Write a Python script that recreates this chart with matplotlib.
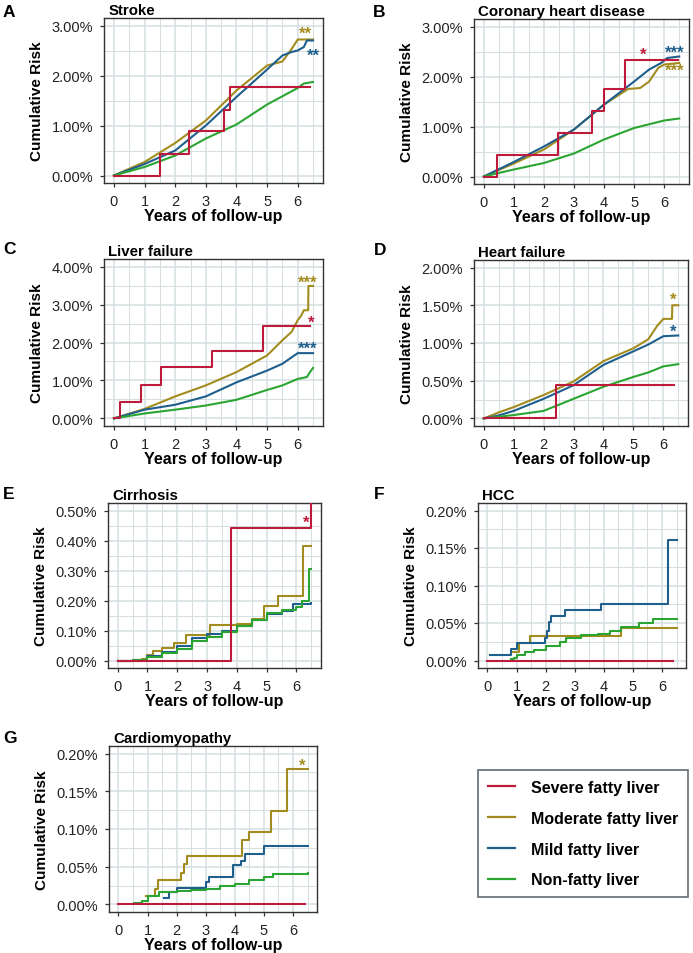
import matplotlib
matplotlib.use("Agg")
import matplotlib.pyplot as plt
from matplotlib.lines import Line2D
from matplotlib.ticker import FuncFormatter, MultipleLocator

plt.rcParams["font.family"] = ["Liberation Sans", "DejaVu Sans"]

W, H = 693, 954
C = dict(severe="#BE1A3C", moderate="#A38C1F", mild="#1F5F8E", non="#2BA532")
GRID = "#D4DFE0"
GROUPS = ["severe", "moderate", "mild", "non"]
LABELS = ["Severe fatty liver", "Moderate fatty liver", "Mild fatty liver", "Non-fatty liver"]

# cumulative risk in percent; (years, risk)
stroke = {
    "severe": ([0, 1.49, 2.44, 3.6, 3.8, 6.41], [0, 0.44, 0.885, 1.32, 1.77, 1.77]),
    "moderate": ([0, 1, 2, 3, 4, 5, 5.5, 5.8, 6.0, 6.5], [0, 0.27, 0.65, 1.1, 1.70, 2.2, 2.28, 2.53, 2.72, 2.72]),
    "mild": ([0, 1, 2, 3, 4, 5, 5.5, 5.8, 6.0, 6.2, 6.3, 6.5], [0, 0.23, 0.5, 1.0, 1.57, 2.12, 2.4, 2.47, 2.5, 2.57, 2.7, 2.7]),
    "non": ([0, 1, 2, 3, 4, 5, 6, 6.2, 6.5], [0, 0.17, 0.4, 0.74, 1.02, 1.42, 1.75, 1.84, 1.87]),
}
chd = {
    "severe": ([0, 0.44, 2.46, 3.59, 4.0, 4.69, 6.46], [0, 0.44, 0.87, 1.32, 1.76, 2.33, 2.33]),
    "moderate": ([0, 1, 2, 3, 4, 4.8, 5.2, 5.5, 5.8, 6.0, 6.5], [0, 0.26, 0.54, 0.94, 1.44, 1.75, 1.77, 1.9, 2.17, 2.24, 2.27]),
    "mild": ([0, 1, 2, 3, 4, 5, 5.5, 5.9, 6.1, 6.5], [0, 0.29, 0.6, 0.94, 1.44, 1.9, 2.14, 2.27, 2.37, 2.4]),
    "non": ([0, 1, 2, 3, 4, 5, 6, 6.5], [0, 0.14, 0.27, 0.46, 0.74, 0.97, 1.12, 1.16]),
}
liver_failure = {
    "severe": ([0, 0.19, 0.87, 1.55, 3.2, 4.85, 6.41], [0, 0.44, 0.88, 1.35, 1.77, 2.44, 2.44]),
    "moderate": ([0, 1, 2, 3, 4, 5, 5.5, 5.8, 6.0, 6.1, 6.2, 6.34, 6.35, 6.5],
                 [0, 0.25, 0.58, 0.87, 1.22, 1.66, 2.06, 2.28, 2.59, 2.69, 2.85, 2.85, 3.49, 3.49]),
    "mild": ([0, 1, 2, 3, 4, 5, 5.5, 6, 6.5], [0, 0.23, 0.36, 0.58, 0.95, 1.26, 1.44, 1.72, 1.72]),
    "non": ([0, 1, 2, 3, 4, 5, 5.5, 6, 6.3, 6.4, 6.5], [0, 0.13, 0.23, 0.34, 0.49, 0.75, 0.87, 1.04, 1.09, 1.22, 1.33]),
}
heart_failure = {
    "severe": ([0, 2.42, 6.37], [0, 0.45, 0.45]),
    "moderate": ([0, 0.5, 1, 2, 3, 4, 5, 5.5, 5.8, 6.0, 6.29, 6.3, 6.5],
                 [0, 0.08, 0.15, 0.31, 0.49, 0.76, 0.93, 1.05, 1.23, 1.32, 1.32, 1.5, 1.5]),
    "mild": ([0, 0.5, 1, 2, 3, 4, 5, 5.5, 6, 6.5], [0, 0.04, 0.1, 0.26, 0.44, 0.71, 0.89, 0.98, 1.09, 1.1]),
    "non": ([0, 1, 2, 3, 4, 5, 5.5, 6, 6.5], [0, 0.045, 0.1, 0.26, 0.42, 0.55, 0.61, 0.69, 0.72]),
}
cirrhosis = {
    "severe": ([0, 3.8, 6.5], [0, 0.441, 0.882]),
    "moderate": ([0, 0.8, 1.0, 1.2, 1.5, 1.9, 2.29, 3.1, 4.0, 4.5, 4.9, 5.38, 6.23, 6.5],
                 [0, 0.005, 0.019, 0.032, 0.043, 0.06, 0.085, 0.118, 0.122, 0.14, 0.181, 0.215, 0.381, 0.381]),
    "mild": ([0, 0.5, 1.0, 1.5, 2.0, 2.5, 3.0, 3.5, 4.0, 4.5, 5.0, 5.5, 5.9, 6.5],
             [0, 0.003, 0.015, 0.03, 0.05, 0.075, 0.09, 0.1, 0.115, 0.135, 0.155, 0.165, 0.19, 0.193]),
    "non": ([0, 0.5, 1.0, 1.5, 2.0, 2.5, 3.0, 3.5, 4.0, 4.5, 5.0, 5.5, 6.0, 6.2, 6.42, 6.5],
            [0, 0.003, 0.012, 0.025, 0.04, 0.065, 0.08, 0.095, 0.115, 0.135, 0.16, 0.17, 0.18, 0.2, 0.305, 0.305]),
}
hcc = {
    "severe": ([0, 6.38], [0, 0]),
    "moderate": ([0.85, 1.1, 1.45, 4.6, 6.5], [0.012, 0.023, 0.033, 0.044, 0.044]),
    "mild": ([0.1, 0.8, 1.0, 1.98, 2.05, 2.12, 2.2, 2.65, 3.9, 6.2, 6.5],
             [0.0075, 0.015, 0.023, 0.03, 0.04, 0.052, 0.06, 0.067, 0.075, 0.161, 0.161]),
    "non": ([0.8, 0.9, 1.0, 1.3, 1.6, 2.0, 2.3, 2.5, 2.7, 3.2, 3.8, 4.2, 4.6, 5.2, 5.7, 6.5],
            [0.002, 0.004, 0.008, 0.011, 0.014, 0.019, 0.02, 0.025, 0.03, 0.034, 0.036, 0.04, 0.045, 0.05, 0.055, 0.055]),
}
cardiomyopathy = {
    "severe": ([0, 6.4], [0, 0]),
    "moderate": ([0.95, 1.27, 1.35, 2.15, 2.25, 2.35, 4.25, 4.5, 5.25, 5.8, 6.5],
                 [0.011, 0.021, 0.032, 0.042, 0.054, 0.064, 0.085, 0.096, 0.124, 0.179, 0.179]),
    "mild": ([1.55, 1.75, 2.0, 3.0, 3.1, 3.95, 4.2, 4.35, 5.0, 6.5],
             [0.008, 0.016, 0.022, 0.03, 0.036, 0.052, 0.058, 0.067, 0.078, 0.078]),
    "non": ([0.55, 0.8, 1.0, 1.4, 2.0, 2.5, 3.0, 3.5, 4.0, 4.5, 5.0, 5.3, 6.5],
            [0.002, 0.004, 0.011, 0.016, 0.018, 0.019, 0.021, 0.024, 0.027, 0.032, 0.037, 0.041, 0.042]),
}

# significance marks: (group, x, y, text)
stroke_stars = [("moderate", 6.25, 2.84, "**"), ("mild", 6.52, 2.40, "**")]
chd_stars = [("severe", 5.31, 2.44, "*"), ("mild", 6.35, 2.49, "***"), ("moderate", 6.35, 2.12, "***")]
lf_stars = [("moderate", 6.33, 3.6, "***"), ("severe", 6.44, 2.52, "*"), ("mild", 6.33, 1.85, "***")]
hf_stars = [("moderate", 6.33, 1.58, "*"), ("mild", 6.33, 1.15, "*")]
cir_stars = [("severe", 6.32, 0.462, "*")]
cm_stars = [("moderate", 6.32, 0.185, "*")]

# letter, title, data, stars, ymax, ystep, smooth groups (drawn as lines), pixel box (l, t, r, b), letter pos
panels = [
    ("A", "Stroke", stroke, stroke_stars, 3.0, 1.0, {"moderate", "mild", "non"}, (104, 19, 323, 184), (3, 5)),
    ("B", "Coronary heart disease", chd, chd_stars, 3.0, 1.0, {"moderate", "mild", "non"}, (474, 20, 689, 185), (373, 5)),
    ("C", "Liver failure", liver_failure, lf_stars, 4.0, 1.0, {"moderate", "mild", "non"}, (104, 260, 323, 427), (3, 242)),
    ("D", "Heart failure", heart_failure, hf_stars, 2.0, 0.5, {"moderate", "mild", "non"}, (474, 261, 688, 427), (374, 243)),
    ("E", "Cirrhosis", cirrhosis, cir_stars, 0.5, 0.1, set(), (108, 504, 321, 669), (3, 487)),
    ("F", "HCC", hcc, [], 0.2, 0.05, set(), (478, 504, 686, 669), (374, 487)),
    ("G", "Cardiomyopathy", cardiomyopathy, cm_stars, 0.2, 0.05, set(), (109, 747, 317, 913), (3, 731)),
]

fig = plt.figure(figsize=(W / 100, H / 100), dpi=100)

for letter, title, data, stars, ymax, ystep, smooth, (l, t, r, b), (lx, ly) in panels:
    ax = fig.add_axes([l / W, 1 - b / H, (r - l) / W, (b - t) / H])
    for g in GROUPS:
        xs, ys = data[g]
        ds = "default" if g in smooth else "steps-post"
        ax.plot(xs, ys, color=C[g], lw=1.5, drawstyle=ds, zorder=3 + (GROUPS.index(g) == 0))
    for g, sx, sy, s in stars:
        ax.text(sx, sy, s, color=C[g], fontsize=12, fontweight="bold", ha="center", va="center", zorder=5)
    ax.set_xlim(-0.325, 6.825)
    ax.set_ylim(-0.05 * ymax, 1.05 * ymax)
    ax.xaxis.set_major_locator(MultipleLocator(1))
    ax.xaxis.set_minor_locator(MultipleLocator(0.5))
    ax.yaxis.set_major_locator(MultipleLocator(ystep))
    ax.yaxis.set_minor_locator(MultipleLocator(ystep / 2))
    ax.yaxis.set_major_formatter(FuncFormatter(lambda v, p: f"{v:.2f}%"))
    ax.grid(which="major", color=GRID, lw=1.1)
    ax.grid(which="minor", color=GRID, lw=0.7)
    ax.set_axisbelow(True)
    ax.tick_params(which="minor", length=0)
    ax.tick_params(which="major", length=3, width=0.9, color="#333333", labelsize=10.5,
                   labelcolor="#222222", pad=5)
    for sp in ax.spines.values():
        sp.set_color("#333333"); sp.set_linewidth(1.0)
    ax.set_xlabel("Years of follow-up", fontsize=11.5, fontweight="bold", labelpad=0)
    ax.set_ylabel("Cumulative Risk", fontsize=11, fontweight="bold", labelpad=5)
    ax.set_title(title, fontsize=10.8, fontweight="bold", loc="left", pad=3, x=0.02)
    fig.text(lx / W, 1 - ly / H, letter, fontsize=12.5, fontweight="bold", va="top", ha="left")

handles = [Line2D([], [], color=C[g], lw=1.6) for g in GROUPS]
leg = fig.legend(handles, LABELS, loc="upper left", bbox_to_anchor=(478 / W, 1 - 771 / H),
                 prop={"weight": "bold", "size": 11.5}, frameon=True, fancybox=False,
                 handlelength=1.7, handletextpad=1.0, labelspacing=1.0, borderpad=0.6,
                 borderaxespad=0)
leg.get_frame().set_edgecolor("#3A4750")
leg.get_frame().set_linewidth(1.2)

fig.savefig("out.png", dpi=100)
